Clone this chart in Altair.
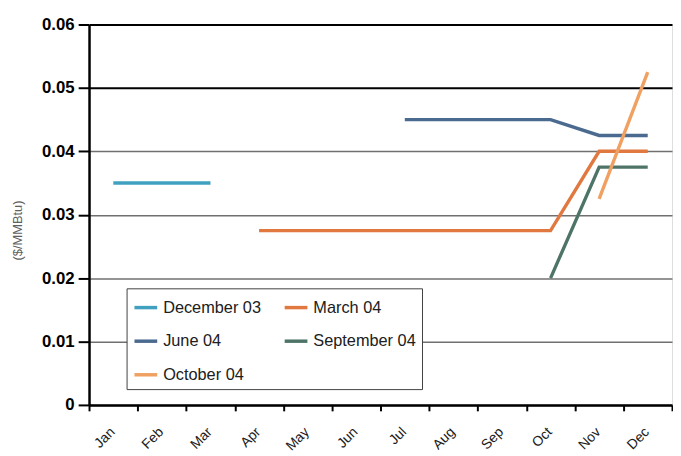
import altair as alt
import pandas as pd

months = ["Jan", "Feb", "Mar", "Apr", "May", "Jun", "Jul", "Aug", "Sep", "Oct", "Nov", "Dec"]
series_names = ["December 03", "March 04", "June 04", "September 04", "October 04"]
colors = ["#40a0c0", "#e07840", "#4a6a90", "#4e7468", "#f0a060"]

dec03 = [0.035, 0.035, 0.035, None, None, None, None, None, None, None, None, None]
mar04 = [None, None, None, 0.0275, 0.0275, 0.0275, 0.0275, 0.0275, 0.0275, 0.0275, 0.04, 0.04]
jun04 = [None, None, None, None, None, None, 0.045, 0.045, 0.045, 0.045, 0.0425, 0.0425]
sep04 = [None, None, None, None, None, None, None, None, None, 0.02, 0.0375, 0.0375]
oct04 = [None, None, None, None, None, None, None, None, None, None, 0.0325, 0.0525]

y_ticks = [0, 0.01, 0.02, 0.03, 0.04, 0.05, 0.06]

rows = []
for name, vals in zip(series_names, [dec03, mar04, jun04, sep04, oct04]):
    for m, v in zip(months, vals):
        if v is not None:
            rows.append({"series": name, "month": m, "value": v})
df = pd.DataFrame(rows)

FONT = "Liberation Sans"

chart = alt.Chart(df).mark_line(strokeWidth=3.4, strokeCap="butt").encode(
    x=alt.X("month:O", sort=months, bandPosition=0.5,
            scale=alt.Scale(type="band", domain=months, paddingInner=0, paddingOuter=0),
            axis=alt.Axis(title=None, tickBand="extent", labelAngle=315, labelFontSize=14,
                          labelColor="#202020", labelFont=FONT, labelPadding=14,
                          labelOffset=-6, labelAlign="right", labelBaseline="top",
                          domainColor="black", domainWidth=2.5, tickColor="black",
                          tickWidth=2, tickSize=6, grid=False)),
    y=alt.Y("value:Q", scale=alt.Scale(domain=[0, 0.06], nice=False, zero=True),
            axis=alt.Axis(title="($/MMBtu)", values=y_ticks,
                          labelExpr="datum.value == 0 ? '0' : format(datum.value, '.2f')",
                          labelFontSize=17, labelFontWeight="bold", labelColor="black",
                          labelFont=FONT, labelPadding=4,
                          domainColor="black", domainWidth=2.5, tickColor="black",
                          tickWidth=2, tickSize=11,
                          grid=True,
                          gridColor=alt.condition("datum.value >= 0.05", alt.value("black"), alt.value("#707070")),
                          gridWidth=alt.condition("datum.value >= 0.05", alt.value(2), alt.value(1.5)),
                          titleFont=FONT, titleFontSize=13, titleFontWeight="normal",
                          titleColor="#606060", titleAngle=270, titleX=-72, titleY=208,
                          titleAlign="center", titleBaseline="middle")),
    color=alt.Color("series:N", sort=series_names,
                    scale=alt.Scale(domain=series_names, range=colors),
                    legend=alt.Legend(title=None, orient="none", legendX=38, legendY=267,
                                      columns=2, symbolType="stroke", symbolStrokeWidth=3.5,
                                      symbolSize=529, labelFontSize=16.5, labelFont=FONT,
                                      labelColor="#202020", rowPadding=12, columnPadding=16,
                                      labelOffset=4, padding=6, strokeColor="#404040",
                                      fillColor="white", direction="horizontal")),
    order=alt.Order("month_idx:Q"),
).transform_calculate(
    month_idx="indexof(" + str(months) + ", datum.month)"
).properties(
    width=590, height=385,
    autosize=alt.AutoSizeParams(type="none"),
    padding={"left": 82, "top": 14, "right": 1, "bottom": 49},
).configure_view(
    stroke="#808080", strokeWidth=1.5
).configure(
    font=FONT
)

chart.save("out.html", embed_options={"renderer": "svg", "actions": False})
